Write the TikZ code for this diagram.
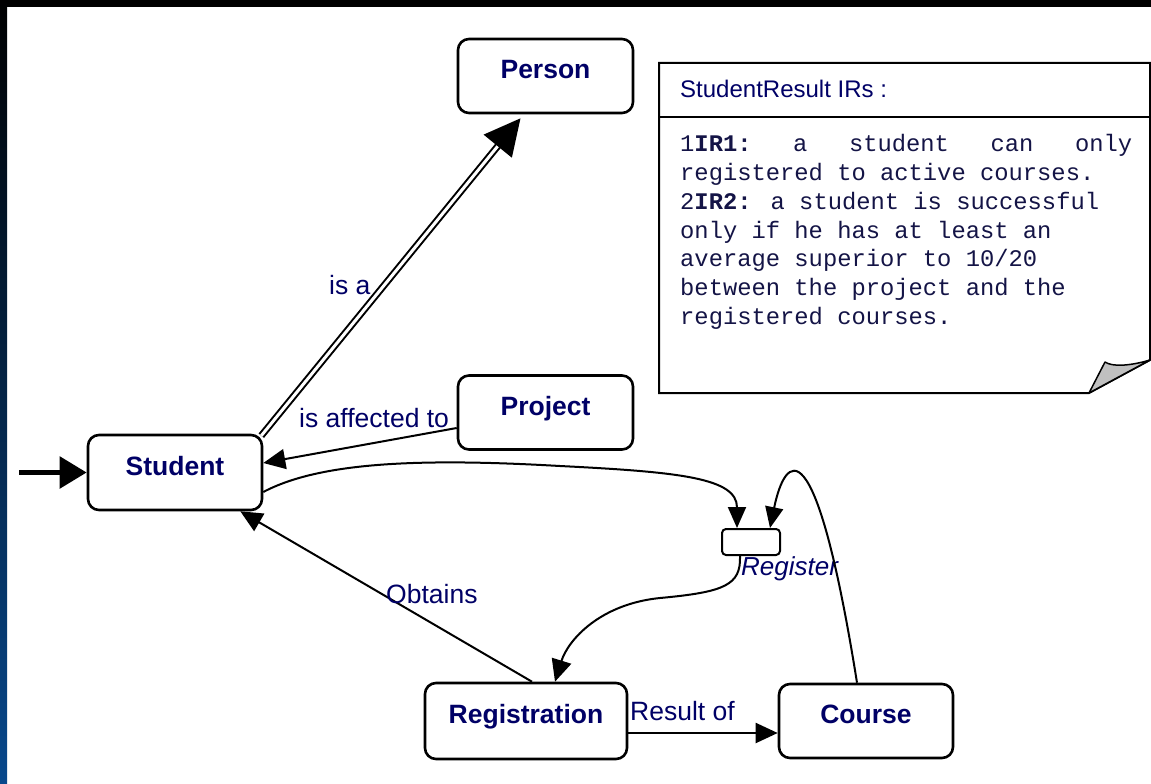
\documentclass[tikz,border=0pt]{standalone}
\usepackage{fontspec}
\setmainfont{Liberation Sans}
\newfontfamily\notemono{Liberation Mono}
\usetikzlibrary{arrows.meta}
\definecolor{navy}{RGB}{0,0,102}
\definecolor{notetext}{RGB}{20,20,70}
\definecolor{foldgrey}{RGB}{192,192,192}
\definecolor{edgeblue}{RGB}{8,72,140}
\definecolor{edgemid}{RGB}{2,16,32}
\begin{document}
\begin{tikzpicture}[x=1pt,y=-1pt,
  entity/.style={draw=black, line width=2.6pt, rounded corners=11pt, fill=white,
    inner sep=0pt, font=\fontsize{26.5}{30}\selectfont\bfseries, text=navy,
    text height=18pt, text depth=13pt},
  conn/.style={line width=2pt, -{Triangle[length=22pt,width=20pt]}},
  smallconn/.style={line width=2pt, -{Triangle[length=21pt,width=18pt]}},
  lbl/.style={font=\fontsize{26.5}{30}\selectfont, text=navy, inner sep=0pt, anchor=base west},
]
\useasboundingbox (0,0) rectangle (1151,784);
\fill[white] (0,0) rectangle (1151,784);
\fill[black] (0,0) rectangle (1151,7);
\shade[top color=black, middle color=edgemid, bottom color=edgeblue] (0,0) rectangle (7,784);

% entities
\node[entity, minimum width=175pt, minimum height=74pt] (person) at (545.5,76) {Person};
\node[entity, minimum width=175pt, minimum height=74pt] (project) at (545.5,412.5) {Project};
\node[entity, minimum width=174pt, minimum height=75pt] (student) at (175,472.5) {Student};
\node[entity, minimum width=202pt, minimum height=76pt] (registration) at (526,721) {Registration};
\node[entity, minimum width=174pt, minimum height=74pt] (course) at (866,721) {Course};
\node[draw, line width=2pt, rounded corners=4pt, minimum width=58pt, minimum height=26pt, inner sep=0pt, fill=white] (register) at (751,542) {};
\node[lbl, font=\fontsize{26}{30}\selectfont\itshape] (registerlbl) at (741,575) {Register};

% note
\draw[line width=2pt, fill=white] (659,63) -- (1150,63) -- (1150,360) -- (1089,393) -- (659,393) -- cycle;
\draw[line width=2pt] (659,117) -- (1150,117);
\filldraw[fill=foldgrey, line width=1.5pt, line join=round] (1089,393) -- (1105,362) .. controls (1112,367) and (1130,366) .. (1150,360) -- cycle;
\node[anchor=base west, inner sep=0pt, font=\fontsize{24}{30}\selectfont, text=navy] (notehead) at (680,97) {StudentResult IRs :};
\node[anchor=north west, inner sep=0pt, align=left, font=\notemono\fontsize{23.8}{28.7}\selectfont, text=notetext] (notebody) at (680,134.5)
{\makebox[452pt][l]{1\textbf{IR1:}\hfill a\hfill student\hfill can\hfill only}\\
registered to active courses.\\
2\textbf{IR2:} a student is successful\\
only if he has at least an\\
average superior to 10/20\\
between the project and the\\
registered courses.};

% connectors
\coordinate (start) at (19,472.5);
\draw[line width=5.5pt, -{Triangle[length=27pt,width=31pt]}] (start) -- (student.west);

\draw[double, double distance=3pt, line width=2pt, -{Triangle[length=36pt,width=36pt]}]
  ([xshift=-2pt,yshift=-2pt]student.north east) -- ([xshift=-25pt,yshift=-4pt]person.south);
\node[lbl] (isa) at (329,294) {is a};

\draw[conn] ([yshift=-15.5pt]project.west) -- ([yshift=9.5pt]student.east);
\node[lbl] (affected) at (299,427) {is affected to};

\draw[smallconn] ([yshift=-19.5pt]student.east) .. controls (320,462) and (420,458) .. (560,466)
  .. controls (680,472) and (737,478) .. ([xshift=-14pt]register.north);

\draw[smallconn] ([xshift=-9pt]course.north) .. controls (815,420) and (785,455) .. ([xshift=19pt]register.north);

\draw[conn] ([xshift=-11pt]register.south) .. controls (741,585) and (725,592) .. (660,598)
  .. controls (600,604) and (568,640) .. ([xshift=29pt]registration.north);

\draw[conn] ([xshift=6pt]registration.north) -- ([xshift=-23pt]student.south east);
\node[lbl] (obtains) at (386,603) {Obtains};

\draw[conn] ([yshift=-12pt]registration.east) -- ([yshift=-12pt]course.west);
\node[lbl] (resultof) at (630,720) {Result of};
\end{tikzpicture}
\end{document}
